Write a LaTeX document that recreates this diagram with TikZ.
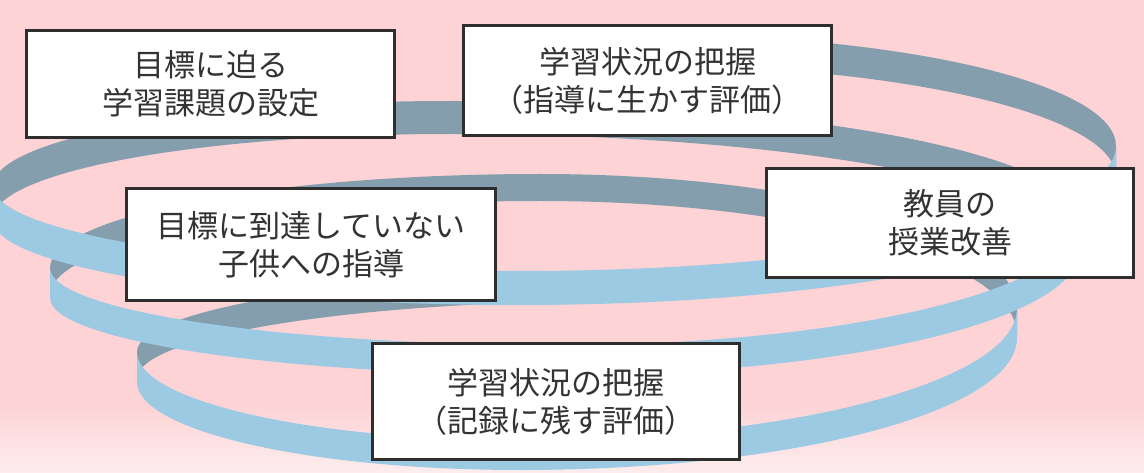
\documentclass[tikz,border=0pt]{standalone}
\usepackage{fontspec}
\newfontfamily\jp{Noto Sans CJK JP}
\definecolor{bgpink}{HTML}{FDD3D6}
\definecolor{bglight}{HTML}{FDEDEE}
\definecolor{ribback}{HTML}{849EAE}
\definecolor{ribfront}{HTML}{9DCAE3}
\definecolor{boxline}{HTML}{2E2E2E}
\definecolor{txt}{HTML}{333333}
% half turn of the ribbon: extremity A (#2,#3), apex M (#4,#5), extremity B (#6,#7), height #8
\newcommand{\halfband}[8]{%
 \fill[#1] (#2,#3) .. controls +(0,{0.5523*(#5-#3)}) and +({0.5523*(#2-#4)},0) .. (#4,#5)
   .. controls +({0.5523*(#6-#4)},0) and +(0,{0.5523*(#5-#7)}) .. (#6,#7)
   -- (#6,{#7+#8}) .. controls +(0,{0.5523*(#5-#7)}) and +({0.5523*(#6-#4)},0) .. (#4,{#5+#8})
   .. controls +({0.5523*(#2-#4)},0) and +(0,{0.5523*(#5-#3)}) .. (#2,{#3+#8}) -- cycle;}
% quarter turn: apex M (#2,#3) to extremity P (#4,#5), height #6
\newcommand{\quarterband}[6]{%
 \fill[#1] (#2,#3) .. controls +({0.5523*(#4-#2)},0) and +(0,{0.5523*(#3-#5)}) .. (#4,#5)
   -- (#4,{#5+#6}) .. controls +(0,{0.5523*(#3-#5)}) and +({0.5523*(#4-#2)},0) .. (#2,{#3+#6}) -- cycle;}
\begin{document}
\begin{tikzpicture}[x=1pt,y=-1pt,
  box/.style={draw=boxline, line width=3pt, fill=white, text=txt, align=center,
    font=\jp\fontsize{31}{38}\selectfont, inner sep=0pt}]
\useasboundingbox (0,0) rectangle (1144,473);
\clip (0,0) rectangle (1144,473);
\fill[bgpink] (0,0) rectangle (1144,473);
\shade[top color=bgpink, bottom color=bglight] (0,405) rectangle (1144,473);
% back (inner) faces
\quarterband{ribback}{640}{34}{1116}{146}{31}
\halfband{ribback}{-7}{186}{450}{101}{1080}{220}{33}
\halfband{ribback}{50}{268}{540}{174}{1017}{308}{27}
\quarterband{ribback}{620}{274}{137}{352}{27}
% front (outer) faces
\halfband{ribfront}{1116}{146}{520}{271}{-7}{186}{34}
\halfband{ribfront}{1080}{220}{560}{345}{50}{268}{30}
\halfband{ribfront}{1017}{308}{520}{440}{137}{352}{30}
% boxes
\node[box, minimum width=368pt, minimum height=107pt] (b1) at (210.5,84) {目標に迫る\\学習課題の設定};
\node[box, minimum width=368pt, minimum height=110pt] (b2) at (647.5,80.5) {学習状況の把握\\（指導に生かす評価）};
\node[box, minimum width=369pt, minimum height=112pt] (b3) at (311,244.5) {目標に到達していない\\子供への指導};
\node[box, minimum width=367pt, minimum height=109pt] (b4) at (950,223) {教員の\\授業改善};
\node[box, minimum width=367pt, minimum height=116pt] (b5) at (556,401.5) {学習状況の把握\\（記録に残す評価）};
\end{tikzpicture}
\end{document}
